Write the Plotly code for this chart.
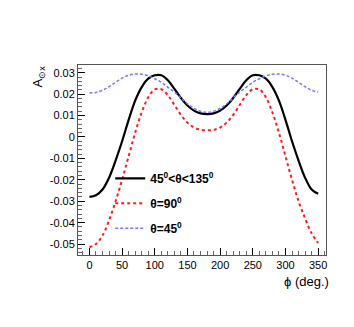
import plotly.graph_objects as go

phi = [0, 10, 20, 30, 40, 50, 60, 70, 80, 90, 100, 110, 120, 130, 140, 150, 160, 170, 180,
       190, 200, 210, 220, 230, 240, 250, 260, 270, 280, 290, 300, 310, 320, 330, 340, 350]

a_range = [-0.028, -0.0272, -0.0245, -0.019, -0.011, -0.002, 0.008, 0.017, 0.0233, 0.0272,
           0.0288, 0.0288, 0.0265, 0.0225, 0.0182, 0.0147, 0.0123, 0.011, 0.0107,
           0.011, 0.0123, 0.0147, 0.0182, 0.0225, 0.0265, 0.0288, 0.0288, 0.0272, 0.0233,
           0.017, 0.008, -0.002, -0.011, -0.019, -0.0245, -0.0265]

a_90 = [-0.0515, -0.050, -0.046, -0.039, -0.030, -0.020, -0.009, 0.002, 0.0115, 0.0185,
        0.0222, 0.0223, 0.0195, 0.015, 0.0103, 0.0067, 0.0044, 0.0033, 0.0031,
        0.0033, 0.0044, 0.0067, 0.0103, 0.015, 0.0195, 0.0223, 0.0222, 0.0185, 0.0115,
        0.002, -0.009, -0.020, -0.030, -0.038, -0.045, -0.0495]

a_45 = [0.0205, 0.0208, 0.0218, 0.0235, 0.0255, 0.0275, 0.0288, 0.0294, 0.0293, 0.0285,
        0.0272, 0.0255, 0.0232, 0.021, 0.0182, 0.0155, 0.0134, 0.012, 0.0115,
        0.012, 0.0134, 0.0155, 0.0182, 0.021, 0.0232, 0.0255, 0.0272, 0.0285, 0.0293,
        0.0294, 0.0288, 0.0275, 0.0255, 0.0235, 0.0218, 0.021]

names = ["<b>45<sup>0</sup><θ<135<sup>0</sup></b>", "<b>θ=90<sup>0</sup></b>", "<b>θ=45<sup>0</sup></b>"]

y_ticks = [-0.05, -0.04, -0.03, -0.02, -0.01, 0, 0.01, 0.02, 0.03]
y_labels = ["-0.05", "-0.04", "-0.03", "-0.02", "-0.01", "0", "0.01", "0.02", "0.03"]
x_ticks = [0, 50, 100, 150, 200, 250, 300, 350]

fig = go.Figure()
fig.add_trace(go.Scatter(x=phi, y=a_range, mode="lines", name=names[0], legendgroup="a",
                         line=dict(color="black", width=2.2, shape="spline")))
fig.add_trace(go.Scatter(x=phi, y=a_90, mode="lines", name=names[1], legendgroup="b",
                         line=dict(color="#ff1a1a", width=2, dash="dot", shape="spline")))
fig.add_trace(go.Scatter(x=phi, y=a_45, mode="lines", name=names[2], legendgroup="c",
                         line=dict(color="#7777ff", width=1.5, dash="3px,2px", shape="spline")))

axis_font = dict(family="Liberation Sans", size=11, color="black")
fig.update_xaxes(range=[-17.5, 362], tickvals=x_ticks,
                 ticks="inside", ticklen=7, tickcolor="black", showline=True, linecolor="#555",
                 mirror=True, showgrid=False, zeroline=False, tickfont=axis_font,
                 minor=dict(dtick=10, ticks="inside", ticklen=4, tickcolor="#666"))
fig.update_yaxes(range=[-0.0551, 0.0336], tickvals=y_ticks, ticktext=y_labels,
                 ticks="inside", ticklen=7, tickcolor="black", showline=True, linecolor="#555",
                 mirror=True, showgrid=False, zeroline=False, tickfont=axis_font,
                 minor=dict(dtick=0.002, ticks="inside", ticklen=4, tickcolor="#666"))

fig.add_annotation(text="A<sub>⊙x</sub>", xref="paper", yref="paper", x=-0.16, y=1.01,
                   xanchor="center", yanchor="top", textangle=-90, showarrow=False,
                   font=dict(family="Liberation Sans", size=13, color="black"))
fig.add_annotation(text="ϕ (deg.)", xref="paper", yref="paper", x=1.02, y=-0.09,
                   xanchor="right", yanchor="top", showarrow=False,
                   font=dict(family="Liberation Sans", size=13, color="black"))

# page body has an 8px margin, so the plot area is set 8px up/left to land where the reference has it
fig.update_layout(width=354, height=327, margin=dict(l=70, r=36, t=57, b=80),
                  paper_bgcolor="white", plot_bgcolor="white",
                  legend=dict(x=0.13, y=0.48, xanchor="left", yanchor="top",
                              bgcolor="rgba(0,0,0,0)", tracegroupgap=6,
                              font=dict(family="Liberation Sans", size=12, color="black")))

fig.write_html("out.html")
